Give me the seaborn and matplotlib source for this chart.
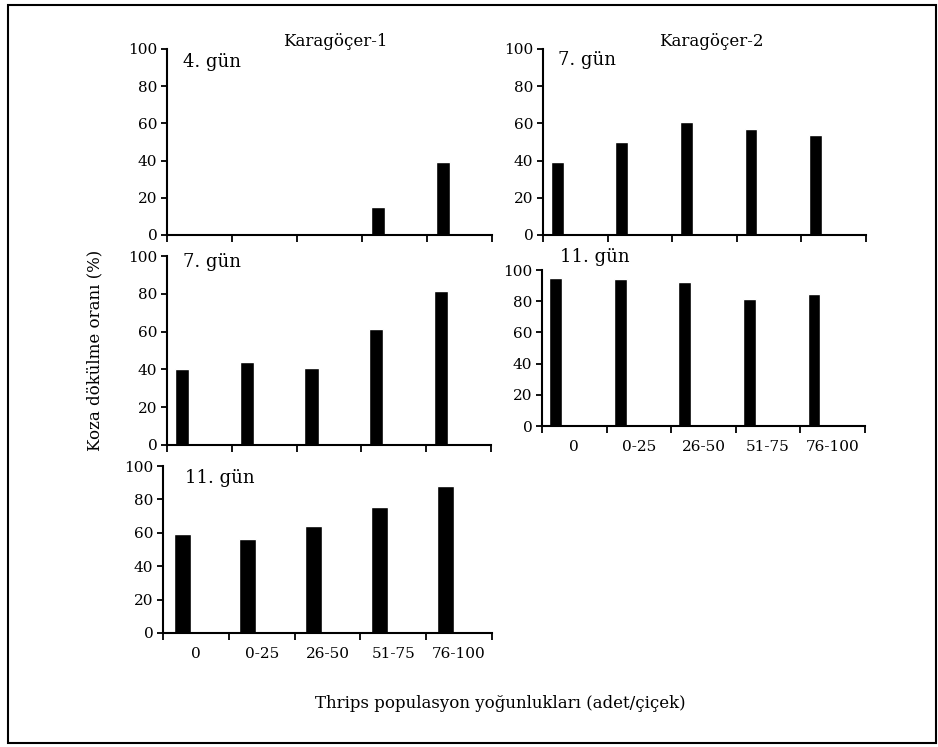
import numpy as np
import pandas as pd
import matplotlib
matplotlib.use('Agg')
import matplotlib.pyplot as plt
import seaborn as sns
from matplotlib.patches import Rectangle

# Data
categories = ['0', '0-25', '26-50', '51-75', '76-100']
k1_gun4 = [0, 0, 0, 15, 39]
k1_gun7 = [40, 44, 41, 61.5, 81.5]
k1_gun11 = [59, 56, 64, 75.5, 88]
k2_gun7 = [39, 50, 61, 57, 54]
k2_gun11 = [95, 94, 92.5, 81.5, 84.5]

sns.set_style('ticks')
plt.rcParams['font.family'] = ['DejaVu Serif']
plt.rcParams.update({'text.color': 'black', 'axes.edgecolor': 'black',
                     'xtick.color': 'black', 'ytick.color': 'black',
                     'axes.labelcolor': 'black'})

W, H = 938, 747
fig = plt.figure(figsize=(W / 100, H / 100), dpi=100)


def px_axes(x0, y0, x1, y1):
    # pixel box: left, top, right, bottom
    return fig.add_axes([x0 / W, 1 - y1 / H, (x1 - x0) / W, (y1 - y0) / H])


def px_text(x, y, s, **kw):
    fig.text(x / W, 1 - y / H, s, **kw)


# values, pixel box, bar offset in slot, bar width, show x labels
panels = [
    (k1_gun4, (167, 49, 492, 235), 0.24, 0.215, False),
    (k1_gun7, (167, 256, 491, 445), 0.23, 0.22, False),
    (k1_gun11, (163, 466, 492, 633), 0.29, 0.26, True),
    (k2_gun7, (543, 49, 866, 235), 0.22, 0.2, False),
    (k2_gun11, (542, 270, 865, 426), 0.21, 0.2, True),
]

for vals, box, off, bw, show_labels in panels:
    ax = px_axes(*box)
    df = pd.DataFrame({'kategori': categories, 'oran': vals})
    sns.barplot(data=df, x='kategori', y='oran', order=categories,
                color='black', saturation=1, width=bw, ax=ax)
    ax.set_xlim(-off, 5 - off)
    ax.set_ylim(0, 100)
    ax.set_yticks(range(0, 101, 20))
    ax.set_xticks(np.arange(5) - off + 0.5)
    ax.set_xticklabels(categories if show_labels else [])
    ax.set_xticks(np.arange(6) - off, minor=True)
    ax.tick_params(axis='x', which='major', length=0, labelsize=11, pad=10)
    ax.tick_params(axis='x', which='minor', length=5, width=1.3, direction='out')
    ax.tick_params(axis='y', length=4, width=1.3, labelsize=11, pad=3)
    ax.set_xlabel('')
    ax.set_ylabel('')
    sns.despine(ax=ax)
    for s in ['left', 'bottom']:
        ax.spines[s].set_linewidth(1.5)

# panel texts
px_text(335, 41, 'Karagöçer-1', ha='center', va='center', fontsize=12)
px_text(711, 41, 'Karagöçer-2', ha='center', va='center', fontsize=12)
px_text(183, 62, '4. gün', ha='left', va='center', fontsize=13)
px_text(183, 262, '7. gün', ha='left', va='center', fontsize=13)
px_text(185, 478, '11. gün', ha='left', va='center', fontsize=13)
px_text(558, 60, '7. gün', ha='left', va='center', fontsize=13)
px_text(560, 257, '11. gün', ha='left', va='center', fontsize=13)

px_text(95, 350, 'Koza dökülme oranı (%)', ha='center', va='center',
        rotation=90, fontsize=12)
px_text(500, 703, 'Thrips populasyon yoğunlukları (adet/çiçek)',
        ha='center', va='center', fontsize=12)

# outer frame
fig.patches.append(Rectangle((8 / W, 1 - 743 / H), 928 / W, 738 / H,
                             transform=fig.transFigure, fill=False,
                             edgecolor='black', linewidth=1.5))

fig.savefig('out.png', dpi=100)
